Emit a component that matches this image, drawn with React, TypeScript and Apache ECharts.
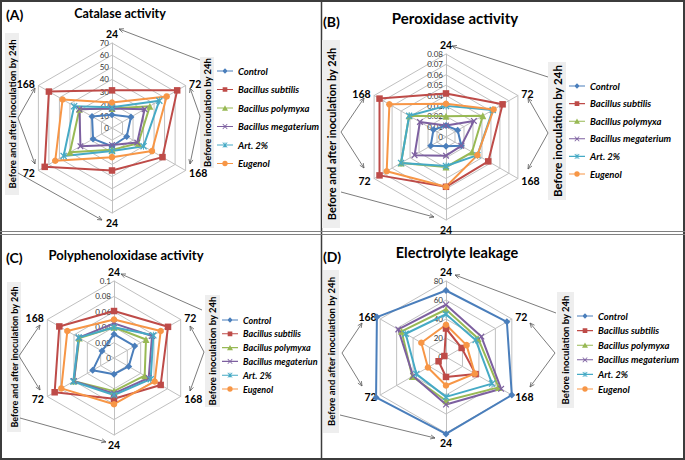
import React, { useEffect, useRef } from "react";
import * as echarts from "echarts";

// ---------- data (clockwise from the top axis) ----------
const hours = ["24", "72", "168", "24", "72", "168"];
const names = ["Control", "Bacillus subtilis", "Bacillus polymyxa", "Bacillus megaterium", "Art. 2%", "Eugenol"];
const namesC = ["Control", "Bacillus subtilis", "Bacillus polymyxa", "Bacillus megateriun", "Art. 2%", "Eugenol"];

const catalaseControl = [11, 18, 14, 15, 18, 19];
const catalaseSubtilis = [31, 62, 48, 35, 64, 60];
const catalasePolymyxa = [16, 36, 25, 18, 40, 31];
const catalaseMegaterium = [16, 31, 24, 14, 30, 31];
const catalaseArt = [17, 45, 30, 19, 46, 36];
const catalaseEugenol = [21, 52, 38, 24, 54, 47];
const catalaseTicks = [0, 70, 7];

const peroxidaseControl = [0.011, 0.013, 0.017, 0.009, 0.017, 0.014];
const peroxidaseSubtilis = [0.042, 0.063, 0.047, 0.048, 0.074, 0.074];
const peroxidasePolymyxa = [0.02, 0.041, 0.029, 0.029, 0.05, 0.041];
const peroxidaseMegaterium = [0.011, 0.031, 0.017, 0.018, 0.035, 0.029];
const peroxidaseArt = [0.03, 0.052, 0.035, 0.028, 0.05, 0.041];
const peroxidaseEugenol = [0.032, 0.053, 0.035, 0.048, 0.066, 0.063];
const peroxidaseTicks = [0, 0.08, 8];

const ppoControl = [0.031, 0.031, 0.022, 0.021, 0.032, 0.018];
const ppoSubtilis = [0.061, 0.081, 0.07, 0.053, 0.089, 0.082];
const ppoPolymyxa = [0.04, 0.048, 0.046, 0.043, 0.06, 0.052];
const ppoMegaterium = [0.045, 0.057, 0.052, 0.046, 0.06, 0.053];
const ppoArt = [0.04, 0.059, 0.055, 0.048, 0.061, 0.053];
const ppoEugenol = [0.05, 0.07, 0.061, 0.06, 0.079, 0.07];
const ppoTicks = [0, 0.1, 5];

const leakageControl = [70, 74, 80, 81, 85, 84];
const leakageSubtilis = [30, 19, 36, 21, 9, 2];
const leakagePolymyxa = [50, 39, 64, 46, 41, 54];
const leakageMegaterium = [55, 43, 67, 50, 40, 58];
const leakageArt = [45, 36, 56, 42, 36, 49];
const leakageEugenol = [34, 25, 35, 30, 22, 30];
const leakageTicks = [0, 80, 4];

// ---------- styles ----------
const FONT = "Lato, 'Open Sans', sans-serif";
const colors = ["#4A7EBB", "#BE4B48", "#98B954", "#7D60A0", "#46AAC5", "#F79646"];
const GRID = "#C0C0C0";
const ARROW = "#5a5a5a";

const xShape = "M0,1.3L1.3,0L5,3.7L8.7,0L10,1.3L6.3,5L10,8.7L8.7,10L5,6.3L1.3,10L0,8.7L3.7,5Z";
const starShape = "M4.35,0H5.65V10H4.35Z " + xShape;
const symbols = ["diamond", "rect", "triangle", "path://" + xShape, "path://" + starShape, "circle"];
const symbolSizes = [7, 6.5, 7, 6.5, 7, 6.5];

const bar = "M0,4.2H24V5.8H0Z ";
const legendIcons = [
  "path://" + bar + "M12,1L16,5L12,9L8,5Z",
  "path://" + bar + "M8.5,1.5H15.5V8.5H8.5Z",
  "path://" + bar + "M12,1L16.5,9L7.5,9Z",
  "path://" + bar + "M8.2,1.8L9,1L12,4L15,1L15.8,1.8L12.8,5L15.8,8.2L15,9L12,6L9,9L8.2,8.2L11.2,5Z",
  "path://" + bar + "M11.5,1H12.5V9H11.5Z M8.2,1.8L9,1L12,4L15,1L15.8,1.8L12.8,5L15.8,8.2L15,9L12,6L9,9L8.2,8.2L11.2,5Z",
  "path://" + bar + "M12,1A4,4 0 1,1 12,9A4,4 0 1,1 12,1Z",
];

// ECharts radar runs counter-clockwise; reorder clockwise readings
const order = [0, 5, 4, 3, 2, 1];
const toEc = (arr: number[]) => order.map((i) => arr[i]);

type Panel = {
  letter: string; letterPos: number[]; letterSize: number;
  title: string; titlePos: number[]; titleSize: number;
  center: number[]; radius: number; ticks: number[];
  values: number[][]; seriesNames: string[];
  legend: { left: number; top: number; gap: number; size: number };
  rightBox: number[]; rightSize: number;
  leftBox: number[]; leftSize: number;
  arrows: number[][];
};

const panels: Panel[] = [
  {
    letter: "(A)", letterPos: [6, 14], letterSize: 14,
    title: "Catalase activity", titlePos: [120, 13], titleSize: 12.5,
    center: [112, 128], radius: 85, ticks: catalaseTicks,
    values: [catalaseControl, catalaseSubtilis, catalasePolymyxa, catalaseMegaterium, catalaseArt, catalaseEugenol],
    seriesNames: names,
    legend: { left: 217, top: 66, gap: 18.5, size: 9.5 },
    rightBox: [200, 57, 14, 111], rightSize: 9.5,
    leftBox: [5, 33, 14, 162], leftSize: 9.5,
    arrows: [[200, 60, 119, 29], [200, 116, 190, 88], [200, 116, 190, 164], [18, 118, 35, 88], [18, 118, 35, 164], [18, 173, 102, 220]],
  },
  {
    letter: "(B)", letterPos: [323, 21], letterSize: 14,
    title: "Peroxidase activity", titlePos: [455, 18], titleSize: 15,
    center: [446, 137], radius: 83, ticks: peroxidaseTicks,
    values: [peroxidaseControl, peroxidaseSubtilis, peroxidasePolymyxa, peroxidaseMegaterium, peroxidaseArt, peroxidaseEugenol],
    seriesNames: names,
    legend: { left: 569, top: 81, gap: 17.6, size: 9.5 },
    rightBox: [548, 62, 18, 138], rightSize: 11.5,
    leftBox: [322, 40, 18, 188], leftSize: 11,
    arrows: [[548, 77, 452, 46], [548, 133, 528, 98], [548, 133, 528, 169], [341, 132, 364, 98], [341, 132, 364, 168], [341, 192, 434, 217]],
  },
  {
    letter: "(C)", letterPos: [6, 257], letterSize: 14,
    title: "Polyphenoloxidase activity", titlePos: [126, 255], titleSize: 13,
    center: [114, 358], radius: 77, ticks: ppoTicks,
    values: [ppoControl, ppoSubtilis, ppoPolymyxa, ppoMegaterium, ppoArt, ppoEugenol],
    seriesNames: namesC,
    legend: { left: 222, top: 315, gap: 13.8, size: 9 },
    rightBox: [205, 295, 15, 112], rightSize: 9.5,
    leftBox: [7, 282, 14, 150], leftSize: 9,
    arrows: [[202, 310, 121, 274], [204, 352, 190, 326], [204, 352, 190, 391], [19, 356, 40, 325], [19, 356, 40, 390], [20, 418, 106, 442]],
  },
  {
    letter: "(D)", letterPos: [323, 256], letterSize: 14,
    title: "Electrolyte leakage", titlePos: [457, 252], titleSize: 14.5,
    center: [446, 357], radius: 76, ticks: leakageTicks,
    values: [leakageControl, leakageSubtilis, leakagePolymyxa, leakageMegaterium, leakageArt, leakageEugenol],
    seriesNames: names,
    legend: { left: 577, top: 311, gap: 14.6, size: 9.5 },
    rightBox: [557, 292, 17, 116], rightSize: 9.5,
    leftBox: [323, 270, 16, 163], leftSize: 9.5,
    arrows: [[556, 313, 455, 275], [555, 353, 530, 323], [555, 353, 530, 387], [342, 353, 362, 323], [342, 353, 362, 386], [340, 415, 435, 438]],
  },
];

function arrow(a: number[]) {
  const [x1, y1, x2, y2] = a;
  const ang = Math.atan2(y2 - y1, x2 - x1);
  const L = 5, w = 0.42;
  const p1 = [x2 - L * Math.cos(ang - w), y2 - L * Math.sin(ang - w)];
  const p2 = [x2 - L * Math.cos(ang + w), y2 - L * Math.sin(ang + w)];
  return [
    { type: "line", silent: true, shape: { x1, y1, x2, y2 }, style: { stroke: ARROW, lineWidth: 0.8 } },
    { type: "polyline", silent: true, shape: { points: [p1, [x2, y2], p2] }, style: { stroke: ARROW, fill: "none", lineWidth: 0.8 } },
  ];
}

function vText(box: number[], text: string, size: number) {
  const [x, y, w, h] = box;
  return [
    { type: "rect", silent: true, shape: { x, y, width: w, height: h }, style: { fill: "#EEEEEE" } },
    {
      type: "text", silent: true, x: x + w / 2, y: y + h / 2, rotation: Math.PI / 2,
      style: { text, fill: "#000", font: `bold ${size}px ${FONT}`, align: "center", verticalAlign: "middle" },
    },
  ];
}

function buildOption() {
  const graphic: any[] = [];
  graphic.push({ type: "rect", silent: true, shape: { x: 1, y: 1, width: 683, height: 458 }, style: { fill: "none", stroke: "#3c3c3c", lineWidth: 2 } });
  graphic.push({ type: "line", silent: true, shape: { x1: 321.5, y1: 0, x2: 321.5, y2: 460 }, style: { stroke: "#3c3c3c", lineWidth: 1.5 } });
  graphic.push({ type: "line", silent: true, shape: { x1: 0, y1: 231.5, x2: 685, y2: 231.5 }, style: { stroke: "#808080", lineWidth: 1 } });
  graphic.push({ type: "line", silent: true, shape: { x1: 0, y1: 234.5, x2: 685, y2: 234.5 }, style: { stroke: "#808080", lineWidth: 1 } });

  const radar: any[] = [];
  const series: any[] = [];
  const legend: any[] = [];

  panels.forEach((p, pi) => {
    const [min, max, split] = p.ticks;
    radar.push({
      center: p.center,
      radius: p.radius,
      startAngle: 90,
      splitNumber: split,
      shape: "polygon",
      nameGap: 4,
      axisName: { color: "#000", fontFamily: FONT, fontWeight: "bold", fontSize: 10.5 },
      splitLine: { lineStyle: { color: GRID, width: 1 } },
      splitArea: { show: false },
      axisLine: { lineStyle: { color: GRID, width: 1 } },
      axisTick: { show: false },
      axisLabel: { show: false },
      indicator: order.map((i, k) => {
        const ind: any = { name: hours[i], min, max };
        if (k === 0) ind.axisLabel = { show: true, fontSize: 8, color: "#333", fontFamily: FONT, margin: 3 };
        return ind;
      }),
    });
    series.push({
      type: "radar",
      radarIndex: pi,
      silent: true,
      data: p.values.map((v, i) => ({
        name: p.seriesNames[i],
        value: toEc(v),
        symbol: symbols[i],
        symbolSize: symbolSizes[i],
        lineStyle: { color: colors[i], width: 2 },
        itemStyle: { color: colors[i], borderWidth: 0 },
      })),
    });
    legend.push({
      orient: "vertical",
      left: p.legend.left,
      top: p.legend.top,
      padding: 0,
      itemWidth: 16,
      itemHeight: 7,
      itemGap: p.legend.gap - 10,
      selectedMode: false,
      textStyle: { fontFamily: FONT, fontWeight: "bold", fontStyle: "italic", fontSize: p.legend.size, color: "#000", lineHeight: 10 },
      data: p.seriesNames.map((n, i) => ({ name: n, icon: legendIcons[i], itemStyle: { color: colors[i], borderWidth: 0 } })),
    });

    graphic.push({
      type: "text", silent: true, x: p.letterPos[0], y: p.letterPos[1],
      style: { text: p.letter, fill: "#000", font: `bold ${p.letterSize}px ${FONT}`, align: "left", verticalAlign: "middle" },
    });
    graphic.push({
      type: "text", silent: true, x: p.titlePos[0], y: p.titlePos[1],
      style: { text: p.title, fill: "#000", font: `bold ${p.titleSize}px ${FONT}`, align: "center", verticalAlign: "middle" },
    });
    graphic.push(...vText(p.rightBox, "Before inoculation by 24h", p.rightSize));
    graphic.push(...vText(p.leftBox, "Before and after inoculation by 24h", p.leftSize));
    p.arrows.forEach((a) => graphic.push(...arrow(a)));
  });

  return {
    animation: false,
    backgroundColor: "#ffffff",
    radar,
    series,
    legend,
    graphic,
  };
}

export default function App() {
  const ref = useRef<HTMLDivElement>(null);
  useEffect(() => {
    if (!ref.current) return;
    const chart = echarts.init(ref.current, null, { renderer: "svg" });
    chart.setOption(buildOption() as any);
    return () => chart.dispose();
  }, []);
  return <div ref={ref} style={{ position: "fixed", left: 0, top: 0, width: 685, height: 460 }} />;
}
